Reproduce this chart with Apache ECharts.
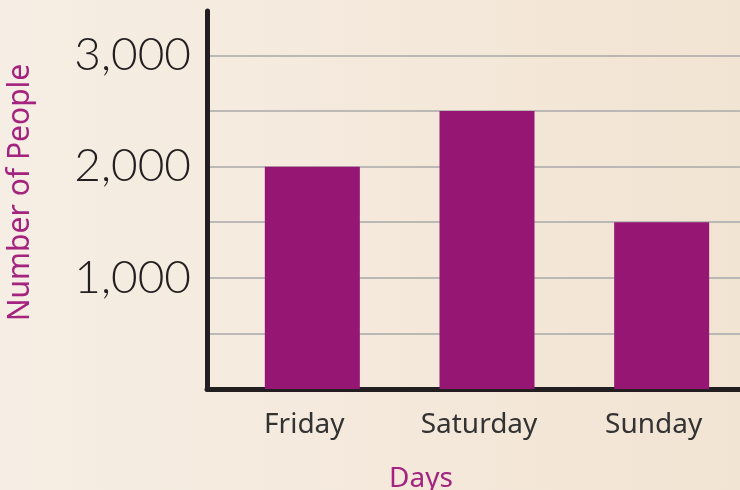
<!DOCTYPE html>
<html>
<head>
<meta charset="utf-8">
<script src="https://cdn.jsdelivr.net/npm/echarts@6/dist/echarts.min.js"></script>
<style>html,body{margin:0;padding:0;}#c{width:740px;height:490px;}</style>
</head>
<body>
<div id="c"></div>
<script>
const days = ['Friday', 'Saturday', 'Sunday'];
const people = [2000, 2500, 1500];
const yLabelValues = [1000, 2000, 3000];
const yMin = 0, yMax = 3400, yStep = 500;

const chart = echarts.init(document.getElementById('c'), null, {renderer: 'canvas'});
const fmt = v => yLabelValues.indexOf(v) >= 0 ? v.toLocaleString('en-US') : '';

chart.setOption({
  backgroundColor: {
    type: 'linear', x: 0, y: 0, x2: 1, y2: 0,
    colorStops: [{offset: 0, color: '#f6eee4'}, {offset: 1, color: '#f2e4d3'}]
  },
  grid: [
    {left: 225, width: 524, top: 11, bottom: 101, containLabel: false, outerBoundsMode: 'none'},
    {left: 207, right: 0, top: 11, bottom: 101, containLabel: false, outerBoundsMode: 'none'}
  ],
  xAxis: [
    {
      type: 'category', gridIndex: 0, data: days,
      axisLine: {show: false}, axisTick: {show: false},
      axisLabel: {
        margin: 22, fontSize: 28, color: '#333', fontFamily: 'Noto Sans',
        padding: [0, 16, 0, 0]
      }
    },
    {
      type: 'category', gridIndex: 1, data: [''],
      axisLine: {show: true, lineStyle: {color: '#231f20', width: 5}},
      axisTick: {show: false}, axisLabel: {show: false},
      name: 'Days', nameLocation: 'middle', nameGap: 76,
      nameTextStyle: {fontSize: 28, color: '#a3237f', fontFamily: 'Noto Sans', padding: [0, 105, 0, 0]}
    }
  ],
  yAxis: [
    {
      type: 'value', gridIndex: 0, min: yMin, max: yMax, interval: yStep,
      show: false
    },
    {
      type: 'value', gridIndex: 1, min: yMin, max: yMax, interval: yStep,
      axisLine: {show: true, lineStyle: {color: '#231f20', width: 5}},
      axisTick: {show: false},
      splitLine: {show: true, showMaxLine: false, showMinLine: false, lineStyle: {color: '#a9a9a9', width: 1.5}},
      axisLabel: {
        formatter: fmt, margin: 16, fontSize: 46, fontWeight: 300,
        color: '#231f20', fontFamily: 'Lato'
      },
      name: 'Number of People', nameLocation: 'middle', nameGap: 172, nameRotate: 90,
      nameTextStyle: {fontSize: 30, color: '#a3237f', fontFamily: 'Noto Sans', padding: [0, 0, 0, 15]}
    }
  ],
  series: [
    {
      type: 'bar', xAxisIndex: 0, yAxisIndex: 0, data: people,
      barWidth: 95, itemStyle: {color: '#961673'}, z: 1
    }
  ]
});
</script>
</body>
</html>
